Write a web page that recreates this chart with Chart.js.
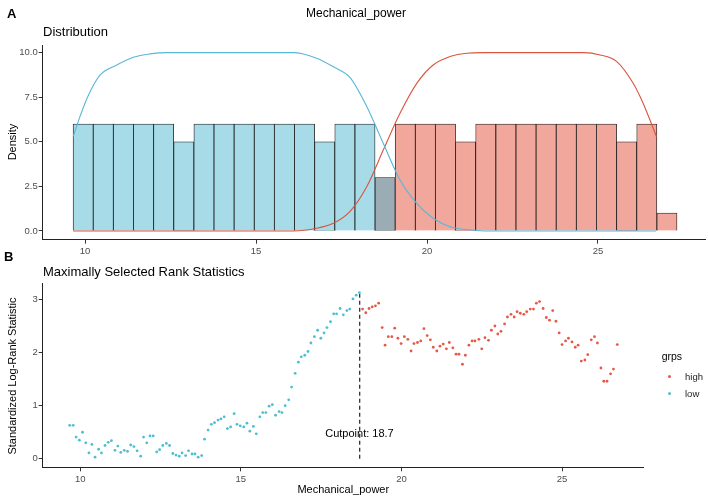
<!DOCTYPE html>
<html><head><meta charset="utf-8">
<script src="https://cdn.jsdelivr.net/npm/chart.js@4.4.1/dist/chart.umd.min.js"></script>
<style>
body{margin:0;background:#fff;}
#wrap{position:relative;width:708px;height:501px;font-family:"Liberation Sans",Arial,sans-serif;overflow:hidden;}
canvas{position:absolute;left:0;top:0;}
.t{position:absolute;white-space:nowrap;line-height:1;color:#000;}
.dot{position:absolute;width:3px;height:3px;border-radius:50%;}
</style></head><body>
<div id="wrap">
<canvas id="cA" width="708" height="501"></canvas>
<canvas id="cB" width="708" height="501"></canvas>
<div class="t" style="left:7px;top:7px;font-size:13px;font-weight:bold">A</div>
<div class="t" style="left:356px;top:7px;font-size:12px;transform:translateX(-50%)">Mechanical_power</div>
<div class="t" style="left:43px;top:25px;font-size:13px">Distribution</div>
<div class="t" style="left:12.3px;top:142px;font-size:11px;transform:translate(-50%,-50%) rotate(-90deg)">Density</div>
<div class="t" style="left:4px;top:250px;font-size:13px;font-weight:bold">B</div>
<div class="t" style="left:43px;top:265px;font-size:13px">Maximally Selected Rank Statistics</div>
<div class="t" style="left:11.7px;top:375.5px;font-size:11px;transform:translate(-50%,-50%) rotate(-90deg)">Standardized Log-Rank Statistic</div>
<div class="t" style="left:343.3px;top:484px;font-size:11px;transform:translateX(-50%)">Mechanical_power</div>
<div class="t" style="left:359.5px;top:427.5px;font-size:11px;transform:translateX(-50%)">Cutpoint: 18.7</div>
<div class="t" style="left:661.7px;top:351px;font-size:10.5px">grps</div>
<div class="dot" style="left:667.8px;top:374.5px;background:#E35A45"></div>
<div class="t" style="left:685px;top:371.5px;font-size:9.5px;color:#222">high</div>
<div class="dot" style="left:667.8px;top:391.8px;background:#4DBFD0"></div>
<div class="t" style="left:685px;top:388.8px;font-size:9.5px;color:#222">low</div>
</div>
<script>
// ---------- Panel A: histogram ----------
const binCenters = [9.943,10.532,11.121,11.709,12.298,12.887,13.476,14.064,14.653,15.242,15.831,16.419,17.008,17.597,18.186,18.774,19.363,19.952,20.541,21.129,21.718,22.307,22.896,23.484,24.073,24.662,25.251,25.839,26.428,27.017];
const binCounts  = [6,6,6,6,6,5,6,6,6,6,6,6,5,6,6,3,6,6,6,5,6,6,6,6,6,6,6,5,6,1];
const binGroups  = ['low','low','low','low','low','low','low','low','low','low','low','low','low','low','low','both','high','high','high','high','high','high','high','high','high','high','high','high','high','high'];

const lowCurveX  = [9.65,9.85,10.07,10.44,10.93,11.41,11.9,12.39,16.09,16.77,17.26,17.75,18.24,18.72,19.21,19.70,20.18,20.67,21.45,22.0,26.7];
const lowCurveY  = [5.29,6.41,7.5,8.75,9.31,9.74,9.93,10.0,10.0,9.69,9.21,8.6,6.97,4.92,2.86,1.55,0.71,0.24,0.03,0,0];
const highCurveX = [9.65,16.09,16.77,17.26,17.75,18.24,18.72,19.21,19.70,20.18,20.67,21.16,21.64,24.57,25.06,25.55,26.03,26.32,26.71];
const highCurveY = [0,0,0.15,0.43,1.1,2.49,4.54,6.6,8.28,9.31,9.78,9.97,10,10,9.87,9.5,8.28,7.16,5.29];

const ticksAx = [10,15,20,25];
const ticksAy = [0,2.5,5,7.5,10];

// ---------- Panel B: maximally selected rank statistics ----------
const lowX = [9.67,9.78,9.87,9.97,10.07,10.17,10.27,10.36,10.46,10.57,10.66,10.77,10.87,10.97,11.08,11.17,11.26,11.37,11.47,11.57,11.67,11.77,11.88,11.97,12.07,12.17,12.27,12.38,12.47,12.57,12.68,12.78,12.88,12.98,13.08,13.17,13.28,13.37,13.48,13.57,13.67,13.78,13.87,13.98,14.08,14.18,14.29,14.38,14.48,14.58,14.68,14.79,14.88,14.98,15.09,15.19,15.28,15.39,15.48,15.59,15.68,15.78,15.88,15.98,16.08,16.19,16.28,16.38,16.49,16.58,16.69,16.79,16.88,16.99,17.09,17.18,17.29,17.39,17.49,17.59,17.68,17.79,17.89,17.98,18.09,18.19,18.30,18.39,18.49,18.59,18.69];
const lowY = [0.63,0.63,0.41,0.35,0.50,0.30,0.11,0.27,0.03,0.18,0.11,0.25,0.31,0.34,0.16,0.24,0.12,0.16,0.14,0.26,0.23,0.15,0.05,0.41,0.30,0.43,0.43,0.13,0.17,0.25,0.29,0.25,0.10,0.07,0.05,0.11,0.06,0.15,0.09,0.09,0.03,0.06,0.37,0.54,0.65,0.68,0.73,0.75,0.79,0.57,0.60,0.85,0.65,0.62,0.60,0.67,0.52,0.61,0.47,0.79,0.87,0.87,0.99,1.02,0.82,0.89,0.87,1.00,1.11,1.35,1.61,1.82,1.92,1.95,2.02,2.18,2.30,2.42,2.27,2.37,2.47,2.58,2.73,2.73,2.83,2.71,2.79,2.82,3.01,3.08,3.13];
const highX = [18.79,18.89,18.99,19.09,19.19,19.29,19.40,19.49,19.59,19.70,19.79,19.89,19.99,20.09,20.20,20.30,20.39,20.50,20.60,20.70,20.80,20.90,20.99,21.10,21.20,21.30,21.40,21.49,21.60,21.70,21.79,21.90,21.99,22.10,22.20,22.29,22.41,22.50,22.60,22.71,22.80,22.91,23.00,23.10,23.21,23.30,23.41,23.51,23.60,23.70,23.81,23.90,24.01,24.11,24.20,24.30,24.41,24.51,24.61,24.71,24.81,24.91,25.00,25.11,25.20,25.31,25.41,25.50,25.60,25.71,25.80,25.91,26.01,26.10,26.21,26.30,26.40,26.51,26.60,26.72];
const highY = [2.82,2.75,2.83,2.86,2.88,2.93,2.47,2.14,2.30,2.30,2.46,2.27,2.17,2.30,2.25,2.03,2.17,2.19,2.22,2.45,2.32,2.24,2.10,2.03,2.12,2.16,2.07,2.19,2.09,1.97,1.97,1.78,1.95,2.14,2.22,2.22,2.25,2.07,2.28,2.23,2.42,2.50,2.35,2.40,2.54,2.67,2.72,2.67,2.77,2.74,2.72,2.77,2.82,2.82,2.93,2.96,2.83,2.66,2.61,2.79,2.59,2.37,2.15,2.22,2.27,2.20,2.10,2.14,1.84,1.86,1.96,2.24,2.30,2.18,1.71,1.46,1.46,1.60,1.69,2.15];
const cutpoint = 18.7;
const cutTop = 3.16;

const ticksBx = [10,15,20,25];
const ticksBy = [0,1,2,3];

// ---------- styling ----------
const FONT = 'Liberation Sans, Arial, sans-serif';
const fillColors = {low:'#A6DBE7', high:'#F2A79C', both:'#9CACB4'};
const tickFont = {family:FONT, size:9.5};
const tickColor = '#4D4D4D';

function axis(min, max, tickVals, fmt, size, isX, pad){
  return {
    type:'linear', min:min, max:max, offset:false,
    afterBuildTicks: s => { s.ticks = tickVals.map(v => ({value:v})); },
    afterFit: s => { if(isX) s.height = size; else s.width = size; },
    ticks:{font:tickFont, color:tickColor, padding:pad, maxRotation:0, autoSkip:false, callback:v=>fmt(v)},
    grid:{display:true, offset:false, drawOnChartArea:false, drawTicks:true, tickLength:4, color:'#333', lineWidth:1},
    border:{display:true, color:'#222', width:1}
  };
}
const common = {responsive:false, animation:false, events:[], plugins:{legend:{display:false}, tooltip:{enabled:false}}};

new Chart(document.getElementById('cA'), {
  type:'bar',
  data:{datasets:[
    {type:'bar', data:binCenters.map((x,i)=>({x:x, y:binCounts[i]})),
     backgroundColor:binGroups.map(g=>fillColors[g]), borderColor:'#1a1a1a', borderWidth:0.8,
     barPercentage:1, categoryPercentage:1, order:3},
    {type:'line', data:lowCurveX.map((x,i)=>({x:x, y:lowCurveY[i]})), borderColor:'#58B7D5', borderWidth:1.1,
     pointRadius:0, cubicInterpolationMode:'monotone', fill:false, order:1},
    {type:'line', data:highCurveX.map((x,i)=>({x:x, y:highCurveY[i]})), borderColor:'#D9553F', borderWidth:1.1,
     pointRadius:0, cubicInterpolationMode:'monotone', fill:false, order:2}
  ]},
  options:Object.assign({}, common, {
    layout:{padding:{left:0, top:45, right:3, bottom:241.3}},
    scales:{
      x: axis(8.76, 28.13, ticksAx, v=>String(v), 20, true, 2),
      y: axis(-0.49, 10.43, ticksAy, v=>v.toFixed(1), 42.7, false, 1)
    }
  })
});

new Chart(document.getElementById('cB'), {
  type:'scatter',
  data:{datasets:[
    {data:[{x:cutpoint,y:0},{x:cutpoint,y:cutTop}], showLine:true, borderColor:'#222', borderWidth:1.2,
     borderDash:[4,3], pointRadius:0, order:3},
    {data:highX.map((x,i)=>({x:x, y:highY[i]})), backgroundColor:'#E35A45', borderWidth:0, pointRadius:1.4, order:2},
    {data:lowX.map((x,i)=>({x:x, y:lowY[i]})), backgroundColor:'#4DBFD0', borderWidth:0, pointRadius:1.4, order:1}
  ]},
  options:Object.assign({}, common, {
    layout:{padding:{left:0, top:283, right:64.7, bottom:13.7}},
    scales:{
      x: axis(8.83, 27.53, ticksBx, v=>String(v), 20, true, 2),
      y: axis(-0.16, 3.31, ticksBy, v=>String(v), 42.7, false, 1)
    }
  })
});
</script>
</body></html>
